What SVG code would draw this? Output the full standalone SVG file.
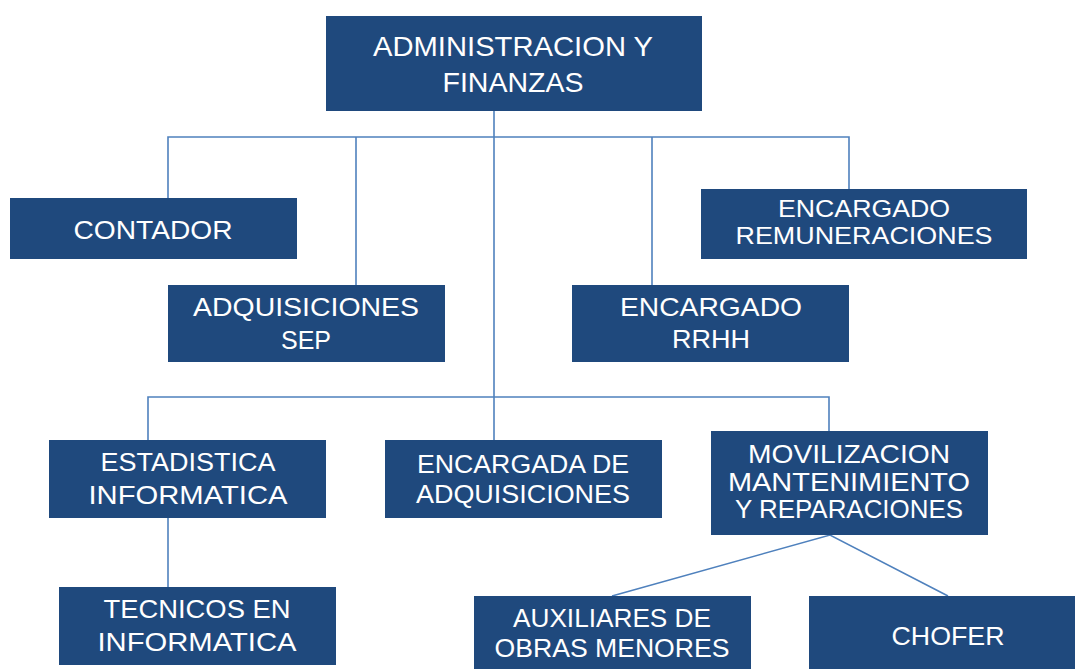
<svg xmlns="http://www.w3.org/2000/svg" width="1075" height="669" viewBox="0 0 1075 669">
<style>
.box{fill:#1F497D;}
.t{fill:#FFFFFF;font-family:"Liberation Sans",Arial,sans-serif;font-size:26px;text-anchor:middle;}
.s{font-size:24px;}
.c{fill:none;stroke:#4F81BD;stroke-width:1.6;}
</style>
<rect width="1075" height="669" fill="#FFFFFF"/>
<g id="connectors">
<path class="c" d="M494,111 V440"/>
<path class="c" d="M168,198 V137 H849 V189"/>
<path class="c" d="M356,137 V285"/>
<path class="c" d="M652,137 V285"/>
<path class="c" d="M148,440 V397 H829 V431"/>
<path class="c" d="M168,518 V587"/>
<path class="c" d="M612,596 L830,535 L948,596"/>
</g>
<g id="admin">
<rect class="box" x="326" y="16" width="376" height="95"/>
<text class="t" x="513" y="56" style="font-size:28px" textLength="280" lengthAdjust="spacingAndGlyphs">ADMINISTRACION Y</text>
<text class="t" x="513" y="92" style="font-size:28px" textLength="141" lengthAdjust="spacingAndGlyphs">FINANZAS</text>
</g>
<g id="contador">
<rect class="box" x="10" y="198" width="287" height="61"/>
<text class="t" x="153" y="239" textLength="159" lengthAdjust="spacingAndGlyphs">CONTADOR</text>
</g>
<g id="adquisiciones-sep">
<rect class="box" x="168" y="285" width="277" height="77"/>
<text class="t" x="306" y="316" textLength="226" lengthAdjust="spacingAndGlyphs">ADQUISICIONES</text>
<text class="t" x="306" y="349" textLength="50" lengthAdjust="spacingAndGlyphs">SEP</text>
</g>
<g id="encargado-rrhh">
<rect class="box" x="572" y="285" width="277" height="77"/>
<text class="t" x="711" y="316" textLength="182" lengthAdjust="spacingAndGlyphs">ENCARGADO</text>
<text class="t" x="711" y="348" textLength="78" lengthAdjust="spacingAndGlyphs">RRHH</text>
</g>
<g id="encargado-remuneraciones">
<rect class="box" x="701" y="189" width="326" height="70"/>
<text class="t s" x="864" y="217" textLength="172" lengthAdjust="spacingAndGlyphs">ENCARGADO</text>
<text class="t s" x="864" y="244" textLength="257" lengthAdjust="spacingAndGlyphs">REMUNERACIONES</text>
</g>
<g id="estadistica-informatica">
<rect class="box" x="49" y="440" width="277" height="78"/>
<text class="t" x="188" y="471" textLength="175" lengthAdjust="spacingAndGlyphs">ESTADISTICA</text>
<text class="t" x="188" y="504" textLength="199" lengthAdjust="spacingAndGlyphs">INFORMATICA</text>
</g>
<g id="encargada-adquisiciones">
<rect class="box" x="385" y="440" width="277" height="78"/>
<text class="t" x="523" y="473" textLength="212" lengthAdjust="spacingAndGlyphs">ENCARGADA DE</text>
<text class="t" x="523" y="503" textLength="214" lengthAdjust="spacingAndGlyphs">ADQUISICIONES</text>
</g>
<g id="movilizacion">
<rect class="box" x="711" y="431" width="277" height="104"/>
<text class="t" x="849" y="463" style="font-size:25px" textLength="202" lengthAdjust="spacingAndGlyphs">MOVILIZACION</text>
<text class="t" x="849" y="491" style="font-size:25px" textLength="242" lengthAdjust="spacingAndGlyphs">MANTENIMIENTO</text>
<text class="t" x="849" y="518" style="font-size:25px" textLength="228" lengthAdjust="spacingAndGlyphs">Y REPARACIONES</text>
</g>
<g id="tecnicos-informatica">
<rect class="box" x="59" y="587" width="277" height="78"/>
<text class="t" x="197" y="618" textLength="187" lengthAdjust="spacingAndGlyphs">TECNICOS EN</text>
<text class="t" x="197" y="651" textLength="199" lengthAdjust="spacingAndGlyphs">INFORMATICA</text>
</g>
<g id="auxiliares">
<rect class="box" x="474" y="596" width="277" height="73"/>
<text class="t" x="612" y="627" textLength="198" lengthAdjust="spacingAndGlyphs">AUXILIARES DE</text>
<text class="t" x="612" y="657" textLength="235" lengthAdjust="spacingAndGlyphs">OBRAS MENORES</text>
</g>
<g id="chofer">
<rect class="box" x="809" y="596" width="266" height="73"/>
<text class="t" x="948" y="645" textLength="113" lengthAdjust="spacingAndGlyphs">CHOFER</text>
</g>
</svg>
